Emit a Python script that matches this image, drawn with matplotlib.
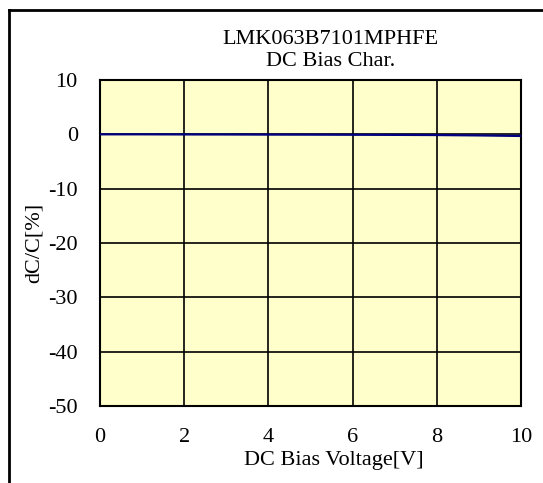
import matplotlib
matplotlib.use('Agg')
import matplotlib.pyplot as plt
from matplotlib.lines import Line2D

# DC bias data
voltage = [0, 1, 2, 3, 4, 5, 6, 7, 8, 9, 10]
dc_change = [0.0, 0.0, -0.02, -0.03, -0.05, -0.06, -0.08, -0.1, -0.13, -0.2, -0.3]

x_ticks = [0, 2, 4, 6, 8, 10]
y_ticks = [-50, -40, -30, -20, -10, 0, 10]

plt.rcParams['font.family'] = ['Liberation Serif', 'DejaVu Serif']
plt.rcParams['axes.unicode_minus'] = False

fs = 16

fig = plt.figure(figsize=(5.43, 4.83), dpi=100)
ax = fig.add_axes([100 / 543, 1 - 406 / 483, 421 / 543, 326 / 483])

# Outer frame (left and top only visible)
fig.add_artist(Line2D([8.5 / 543, 8.5 / 543], [0, 1 - 10 / 483], color='black', lw=2, transform=fig.transFigure))
fig.add_artist(Line2D([8.5 / 543, 1], [1 - 10 / 483, 1 - 10 / 483], color='black', lw=2, transform=fig.transFigure))

ax.set_facecolor('#ffffcc')
ax.plot(voltage, dc_change, color='#000080', lw=1.6, zorder=3)

ax.set_xlim(0, 10)
ax.set_ylim(-50, 10)
ax.set_xticks(x_ticks)
ax.set_yticks(y_ticks)
ax.grid(True, color='black', lw=1.2)
ax.tick_params(length=0, labelsize=fs)
ax.tick_params(axis='x', pad=16)
ax.tick_params(axis='y', pad=16)
for s in ax.spines.values():
    s.set_linewidth(1.5)

ax.set_xlabel('DC Bias Voltage[V]', fontsize=fs, labelpad=3)
ax.xaxis.label.set_x((334 - 100) / 421)
ax.set_ylabel('dC/C[%]', fontsize=fs, labelpad=3)

fig.text(330 / 543, 1 - 39 / 483, 'LMK063B7101MPHFE', ha='center', va='center', fontsize=fs)
fig.text(331 / 543, 1 - 62 / 483, 'DC Bias Char.', ha='center', va='center', fontsize=fs)

fig.savefig('out.png', dpi=100)
